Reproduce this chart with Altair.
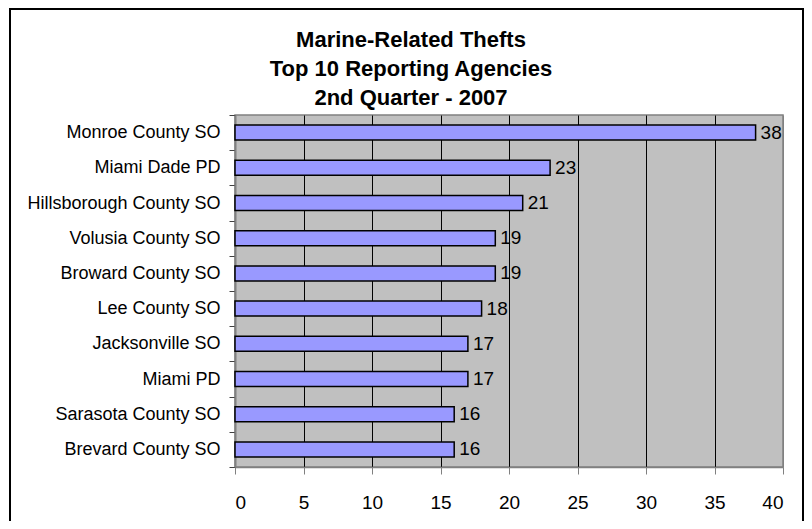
import altair as alt
import pandas as pd

agencies = ["Monroe County SO", "Miami Dade PD", "Hillsborough County SO",
            "Volusia County SO", "Broward County SO", "Lee County SO",
            "Jacksonville SO", "Miami PD", "Sarasota County SO", "Brevard County SO"]
thefts = [38, 23, 21, 19, 19, 18, 17, 17, 16, 16]
x_ticks = [0, 5, 10, 15, 20, 25, 30, 35, 40]
title_lines = ["Marine-Related Thefts", "Top 10 Reporting Agencies", "2nd Quarter - 2007"]

df = pd.DataFrame({"agency": agencies, "thefts": thefts})
FONT = "Liberation Sans"

y_enc = alt.Y("agency:N", sort=agencies,
              scale=alt.Scale(paddingInner=0, paddingOuter=0),
              axis=alt.Axis(title=None, labelFont=FONT, labelFontSize=18, labelColor="black",
                            labelLimit=400,
                            tickBand="extent", tickSize=6, tickColor="#404040", tickWidth=1,
                            domainColor="#808080", domainWidth=2, labelPadding=9, grid=False))
x_enc = alt.X("thefts:Q", scale=alt.Scale(domain=[0, 40], nice=False, zero=True),
              axis=alt.Axis(title=None, values=x_ticks, labelFont=FONT, labelFontSize=19,
                            labelColor="black", tickSize=7, tickColor="#808080", tickWidth=1,
                            domainColor="#808080", domainWidth=1.5, labelPadding=19,
                            grid=True,
                            gridColor=alt.condition("datum.value == 0 || datum.value == 40",
                                                    alt.value("#808080"), alt.value("black")),
                            gridWidth=1, gridOpacity=1))

border = alt.Chart(pd.DataFrame({"a": [0]})).mark_rect(
    fill=None, stroke="black", strokeWidth=2
).encode(x=alt.value(-225), x2=alt.value(568), y=alt.value(-106), y2=alt.value(430))

bars = alt.Chart(df).mark_bar(
    size=15, color="#9999ff", stroke="black", strokeWidth=1.5
).encode(x=x_enc, y=y_enc)

labels = alt.Chart(df).mark_text(
    align="left", baseline="middle", dx=5, font=FONT, fontSize=19, color="black"
).encode(x="thefts:Q", y=alt.Y("agency:N", sort=agencies), text="thefts:Q")

chart = alt.layer(border, bars, labels).properties(
    width=548, height=352,
    title=alt.TitleParams(title_lines, font=FONT, fontSize=22, fontWeight="bold",
                          color="black", anchor="middle", frame="group", dx=-98,
                          baseline="top", lineHeight=29, offset=0, dy=102),
    autosize=alt.AutoSizeParams(type="none"),
    padding={"left": 227, "top": 107, "right": 21, "bottom": 54},
    background="white",
).configure_view(
    fill="#c0c0c0", stroke="#808080", strokeWidth=1.5
)

chart.save("out.html", embed_options={"renderer": "svg", "actions": False})
